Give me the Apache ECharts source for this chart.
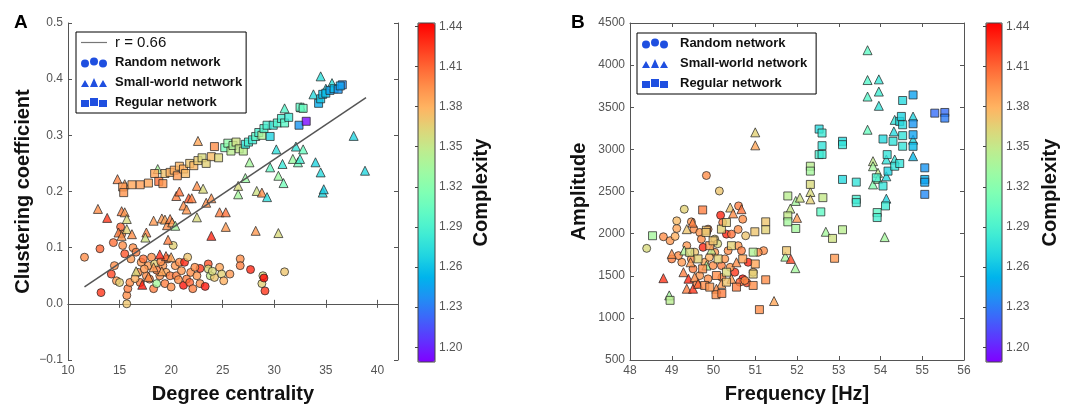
<!DOCTYPE html>
<html>
<head>
<meta charset="utf-8">
<title>Network complexity</title>
<script src="https://cdn.jsdelivr.net/npm/echarts@6/dist/echarts.min.js"></script>
<style>
  html, body { margin: 0; padding: 0; background: #fff; }
  #chart { width: 1092px; height: 409px; }
</style>
</head>
<body>
<div id="chart"></div>
<script>
// A: degree centrality vs clustering coefficient, [x, y, complexity]
var degRandom = [
  [11.6,0.083,1.395],[13.1,0.098,1.41],[13.2,0.020,1.425],[14.4,0.109,1.405],[14.2,0.053,1.42],
  [14.5,0.068,1.395],[14.7,0.041,1.39],[15.0,0.038,1.365],[15.1,0.137,1.41],[15.2,0.124,1.40],
  [15.3,0.104,1.395],[15.5,0.089,1.415],[15.7,0.015,1.395],[15.7,0.000,1.37],[15.8,0.027,1.40],
  [16.0,0.038,1.395],[16.1,0.080,1.39],[16.3,0.100,1.395],[16.6,0.092,1.40],[16.8,0.056,1.395],
  [17.0,0.038,1.40],[17.1,0.074,1.39],[17.3,0.080,1.405],[17.6,0.050,1.395],[17.8,0.068,1.39],
  [17.9,0.044,1.40],[18.1,0.083,1.395],[18.3,0.027,1.40],[18.4,0.071,1.365],[18.6,0.036,1.335],
  [18.9,0.050,1.395],[19.2,0.068,1.39],[19.4,0.036,1.40],[19.5,0.056,1.385],[19.7,0.080,1.395],
  [19.9,0.050,1.40],[20.0,0.030,1.395],[20.2,0.104,1.365],[20.4,0.068,1.39],[20.5,0.050,1.40],
  [20.8,0.074,1.395],[21.0,0.059,1.39],[21.2,0.033,1.435],[21.3,0.074,1.43],[21.5,0.044,1.40],
  [21.6,0.083,1.37],[21.8,0.038,1.41],[21.9,0.056,1.395],[22.1,0.027,1.40],[22.5,0.050,1.39],
  [22.8,0.036,1.395],[22.8,0.063,1.425],[23.3,0.031,1.435],[23.6,0.071,1.415],[23.6,0.062,1.36],
  [23.8,0.050,1.35],[24.2,0.047,1.37],[24.7,0.065,1.385],[24.9,0.053,1.365],[25.1,0.041,1.38],
  [25.7,0.053,1.39],[26.7,0.080,1.395],[26.7,0.068,1.40],[27.7,0.061,1.43],[28.8,0.036,1.365],
  [28.9,0.050,1.36],[29.0,0.046,1.44],[29.1,0.023,1.425],[31.0,0.057,1.37],[17.4,0.062,1.39],
  [18.6,0.060,1.40],[19.0,0.075,1.395],[20.7,0.043,1.395],[22.3,0.065,1.395],[24.0,0.058,1.36],
  [16.5,0.045,1.38]
];
var degSmallWorld = [
  [12.9,0.169,1.395],[13.8,0.153,1.425],[14.8,0.222,1.398],[15.2,0.165,1.40],[15.5,0.163,1.39],
  [15.7,0.151,1.36],[14.9,0.127,1.40],[15.2,0.121,1.392],[15.7,0.133,1.365],[16.2,0.124,1.395],
  [15.5,0.213,1.39],[17.6,0.127,1.40],[17.5,0.118,1.355],[18.3,0.148,1.39],[18.7,0.240,1.335],
  [19.1,0.152,1.39],[19.4,0.150,1.385],[19.6,0.140,1.395],[19.9,0.151,1.40],[20.1,0.145,1.39],
  [20.4,0.139,1.335],[19.5,0.085,1.41],[19.7,0.114,1.40],[18.9,0.088,1.43],[20.0,0.083,1.385],
  [20.5,0.192,1.40],[20.8,0.200,1.405],[21.2,0.175,1.395],[21.5,0.168,1.39],[21.7,0.188,1.415],
  [22.0,0.188,1.40],[22.5,0.210,1.395],[22.6,0.290,1.385],[22.5,0.154,1.36],[23.1,0.205,1.36],
  [23.4,0.180,1.395],[23.9,0.188,1.395],[23.9,0.121,1.43],[24.7,0.163,1.40],[25.3,0.163,1.405],
  [25.3,0.137,1.39],[26.5,0.210,1.36],[26.5,0.195,1.335],[27.2,0.224,1.33],[27.6,0.252,1.335],
  [28.3,0.201,1.355],[28.2,0.130,1.39],[28.8,0.198,1.395],[29.3,0.190,1.275],[29.6,0.243,1.30],
  [30.2,0.275,1.275],[30.4,0.228,1.33],[30.4,0.126,1.36],[30.8,0.249,1.28],[30.9,0.215,1.31],
  [31.0,0.348,1.295],[31.8,0.258,1.33],[32.1,0.280,1.278],[32.3,0.252,1.31],[32.5,0.258,1.285],
  [32.6,0.350,1.29],[32.8,0.275,1.305],[33.8,0.373,1.272],[34.0,0.252,1.268],[34.5,0.405,1.275],
  [34.5,0.234,1.272],[34.7,0.198,1.27],[34.8,0.204,1.265],[35.0,0.383,1.265],[35.6,0.393,1.275],
  [37.7,0.299,1.268],[38.8,0.237,1.27],[16.6,0.058,1.36],[17.2,0.034,1.435],[17.8,0.048,1.395],
  [18.3,0.065,1.39],[19.1,0.058,1.385]
];
var degRegular = [
  [15.3,0.208,1.39],[15.4,0.198,1.392],[16.2,0.212,1.385],[17.0,0.212,1.388],[17.8,0.215,1.385],
  [18.4,0.232,1.386],[18.8,0.218,1.405],[19.2,0.214,1.392],[19.4,0.232,1.372],[19.9,0.234,1.38],
  [20.3,0.238,1.383],[20.6,0.228,1.39],[20.8,0.245,1.378],[21.2,0.240,1.382],[21.4,0.232,1.375],
  [21.8,0.250,1.37],[22.2,0.246,1.377],[22.6,0.255,1.368],[23.0,0.260,1.36],[23.4,0.250,1.365],
  [23.9,0.262,1.375],[24.2,0.280,1.395],[24.6,0.260,1.362],[25.2,0.278,1.31],[25.5,0.286,1.325],
  [25.8,0.272,1.345],[26.0,0.282,1.338],[26.3,0.288,1.355],[26.6,0.276,1.35],[27.0,0.272,1.345],
  [27.2,0.284,1.278],[27.5,0.288,1.288],[27.9,0.292,1.283],[28.2,0.298,1.298],[28.5,0.305,1.288],
  [28.8,0.300,1.34],[29.0,0.312,1.293],[29.3,0.318,1.288],[29.6,0.298,1.268],[29.9,0.318,1.28],
  [30.3,0.322,1.293],[30.7,0.330,1.288],[31.0,0.322,1.298],[31.4,0.332,1.283],[32.5,0.350,1.30],
  [32.8,0.348,1.305],[32.4,0.318,1.24],[33.1,0.325,1.192],[34.3,0.357,1.25],[34.5,0.365,1.262],
  [34.7,0.373,1.255],[35.0,0.375,1.258],[35.4,0.380,1.245],[35.8,0.383,1.255],[36.2,0.382,1.24],
  [36.6,0.390,1.235],[36.4,0.388,1.245]
];
var degFit = [[11.6, 0.030], [38.9, 0.367]];

// B: frequency vs amplitude, [x, y, complexity]
var freqRandom = [
  [48.4,1825,1.36],[48.8,1963,1.395],[48.96,1916,1.39],[49.08,1967,1.38],[49.12,2061,1.385],
  [49.12,2152,1.375],[49.3,2289,1.365],[49.83,2690,1.395],[50.14,2506,1.37],[50.17,2218,1.43],
  [50.6,2329,1.40],[50.7,2171,1.395],[50.77,1975,1.37],[50.7,1463,1.435],[50.8,1416,1.42],
  [50.95,1542,1.375],[51.2,1798,1.395],[49.0,1700,1.40],[49.47,2140,1.39],[49.53,2053,1.395],
  [49.67,2014,1.39],[49.71,1935,1.395],[49.87,2053,1.40],[50.03,1935,1.365],[50.22,2132,1.40],
  [50.31,1994,1.43],[50.43,1994,1.405],[50.59,2050,1.395],[49.36,1857,1.39],[49.47,1700,1.395],
  [49.51,1582,1.40],[49.67,1502,1.39],[49.79,1660,1.385],[49.75,1837,1.43],[50.03,1778,1.39],
  [49.99,1621,1.395],[49.87,1463,1.395],[50.19,1621,1.40],[50.27,1700,1.39],[50.35,1798,1.395],
  [50.59,1857,1.39],[50.67,1798,1.40],[50.83,1660,1.43],[51.07,1778,1.395],[50.51,1542,1.425],
  [50.63,1424,1.41],[50.75,1444,1.395],[49.24,1660,1.39],[49.16,1739,1.395],[49.6,1400,1.40],
  [50.1,1880,1.36],[49.9,1720,1.38],[50.4,1600,1.39],[49.55,1780,1.37],[50.2,1480,1.40]
];
var freqSmallWorld = [
  [48.8,1471,1.425],[48.94,1267,1.335],[49.0,1760,1.395],[49.3,1800,1.34],[49.36,2053,1.37],
  [49.5,2130,1.40],[50.4,2310,1.37],[50.47,2240,1.395],[50.67,2290,1.405],[51.0,3202,1.365],
  [51.0,3048,1.385],[51.45,1200,1.385],[51.72,1727,1.335],[51.85,1700,1.42],[51.96,1590,1.335],
  [51.84,2297,1.35],[51.97,2388,1.335],[52.07,2427,1.355],[52.0,2187,1.39],[52.32,2494,1.36],
  [52.32,2407,1.365],[52.69,2022,1.335],[53.69,4177,1.30],[53.69,3823,1.295],[53.69,3627,1.295],
  [53.69,3233,1.305],[53.96,3831,1.28],[53.96,3686,1.285],[53.96,3517,1.278],[53.82,2860,1.35],
  [53.82,2800,1.335],[53.82,2584,1.318],[53.94,2722,1.35],[53.94,2650,1.325],[54.1,1959,1.335],
  [54.14,2880,1.278],[54.14,2680,1.272],[54.14,2415,1.268],[54.34,2880,1.278],[54.32,3213,1.272],
  [54.34,3350,1.278],[54.78,3390,1.268],[54.78,3115,1.272],[54.78,2919,1.255],[49.4,1465,1.43],
  [49.36,1346,1.40],[49.51,1346,1.425],[49.55,1483,1.395],[49.45,1660,1.39],[49.28,1542,1.40],
  [50.55,1660,1.395],[50.19,1404,1.39],[50.07,1346,1.395],[49.83,1621,1.335],[50.43,1463,1.39],
  [49.63,1404,1.41],[49.95,1810,1.35]
];
var freqRegular = [
  [48.54,1975,1.335],[48.96,1208,1.345],[49.74,2281,1.40],[49.83,2040,1.37],[50.99,2022,1.37],
  [51.25,2140,1.37],[51.25,2046,1.365],[50.95,1780,1.34],[51.0,1640,1.385],[50.95,1520,1.365],
  [50.95,1385,1.395],[51.25,1452,1.395],[51.1,1098,1.395],[50.06,1275,1.395],[51.78,2447,1.345],
  [51.75,1798,1.37],[51.78,2211,1.35],[51.78,2140,1.335],[51.97,2061,1.335],[52.32,2800,1.345],
  [52.32,2742,1.335],[52.32,2584,1.36],[52.53,3241,1.272],[52.6,3194,1.283],[52.6,3044,1.278],
  [52.53,2938,1.288],[52.6,2940,1.283],[52.57,2258,1.30],[52.62,2427,1.35],[52.85,1943,1.355],
  [52.9,1707,1.39],[53.09,2046,1.345],[53.09,3096,1.272],[53.09,3056,1.278],[53.09,2643,1.272],
  [53.42,2611,1.278],[53.42,2407,1.288],[53.42,2368,1.283],[53.9,2663,1.288],[53.92,2250,1.298],
  [53.92,2191,1.288],[54.06,2565,1.278],[54.06,3123,1.272],[54.16,2938,1.278],[54.18,2742,1.268],
  [54.12,2329,1.283],[54.3,3096,1.278],[54.34,2800,1.278],[54.46,3332,1.272],[54.5,3391,1.268],
  [54.53,3580,1.272],[54.53,3292,1.272],[54.53,3163,1.278],[54.53,3037,1.278],[54.46,2832,1.278],
  [54.78,3646,1.245],[54.78,3304,1.24],[54.78,3174,1.245],[54.78,3036,1.255],[55.06,2781,1.24],
  [55.06,2643,1.25],[55.06,2610,1.245],[55.06,2466,1.235],[55.3,3430,1.225],[55.54,3438,1.225],
  [55.54,3371,1.23],[49.82,2014,1.37],[50.19,2053,1.365],[50.31,2132,1.365],[49.43,1778,1.36],
  [49.74,1582,1.395],[49.91,1857,1.39],[49.99,1915,1.37],[50.43,1857,1.365],[49.79,1385,1.395],
  [50.07,1503,1.395],[50.31,1424,1.37],[49.63,1700,1.365],[50.31,1542,1.36],[50.11,1700,1.365],
  [50.55,1365,1.40],[49.91,1365,1.39],[50.7,1700,1.385],[50.2,1290,1.40]
];

// ticks and names
var degTicks = [10, 15, 20, 25, 30, 35, 40];
var complexityTicks = [1.20, 1.23, 1.26, 1.29, 1.32, 1.35, 1.38, 1.41, 1.44];
var complexityRange = [1.189, 1.4425];
var networkNames = ['Random network', 'Small-world network', 'Regular network'];
var fitName = 'r = 0.66';

// matplotlib "rainbow" colormap
function rainbow(t) {
  var r = Math.min(1, Math.abs(2 * t - 0.5));
  var g = Math.sin(Math.PI * t);
  var b = Math.cos(Math.PI * t / 2);
  return 'rgb(' + [r, g, b].map(function (v) { return Math.round(255 * v); }).join(',') + ')';
}
var rainbowStops = [];
for (var i = 0; i <= 16; i++) rainbowStops.push(rainbow(i / 16));

var grey = '#555';
var font = 'Liberation Sans';
var titleStyle = { fontSize: 20, fontWeight: 'bold', color: '#111', fontFamily: font };

function tick(values) {
  var o = { inside: true, length: 4, lineStyle: { color: grey } };
  if (values) o.customValues = values;
  return o;
}
function fmt1(v) { return (v < 0 ? '\u2212' : '') + Math.abs(v).toFixed(1); }

// frame axis (top / right) with ticks only
function frameX(grid, min, max, interval, values) {
  return { gridIndex: grid, type: 'value', position: 'top', min: min, max: max, interval: interval,
    axisLine: { show: true, lineStyle: { color: grey } }, axisTick: tick(values),
    axisLabel: { show: false }, splitLine: { show: false } };
}
function frameY(grid, min, max, interval) {
  return { gridIndex: grid, type: 'value', position: 'right', min: min, max: max, interval: interval,
    axisLine: { show: true, lineStyle: { color: grey } }, axisTick: tick(),
    axisLabel: { show: false }, splitLine: { show: false } };
}
function colorbarAxis(grid, gap) {
  return { gridIndex: grid, type: 'value', position: 'right',
    min: complexityRange[0], max: complexityRange[1],
    axisLine: { show: false }, axisTick: { inside: true, length: 3, customValues: complexityTicks, lineStyle: { color: '#444' } },
    axisLabel: { customValues: complexityTicks, margin: 4, color: grey, fontSize: 12, fontFamily: font,
      formatter: function (v) { return v.toFixed(2); } },
    splitLine: { show: false },
    name: 'Complexity', nameLocation: 'middle', nameRotate: 90, nameGap: gap, nameTextStyle: titleStyle };
}

function scatter(name, data, symbol, size) {
  return {
    name: name, type: 'scatter', data: data, symbol: symbol, symbolSize: size, silent: true,
    itemStyle: { borderColor: '#222', borderWidth: 0.9, opacity: 0.8 },
    emphasis: { disabled: true }
  };
}

var icons = {
  'Random network': 'path://M0,6a4,4 0 1,0 8,0a4,4 0 1,0 -8,0Z M9,4a4,4 0 1,0 8,0a4,4 0 1,0 -8,0Z M18,6a4,4 0 1,0 8,0a4,4 0 1,0 -8,0Z',
  'Small-world network': 'path://M0,10L4,3L8,10Z M9,10L13,1L17,10Z M18,10L22,3L26,10Z',
  'Regular network': 'path://M0,3H8V10H0Z M9,1H17V9H9Z M18,3H26V10H18Z'
};
function legendItems(gap) {
  return networkNames.map(function (n) {
    return { name: n, icon: icons[n], itemStyle: { color: '#1f4fe0', borderWidth: 0, opacity: 1 },
      textStyle: { fontSize: 13, lineHeight: 15, fontWeight: 'bold', color: '#111', fontFamily: font, padding: [0, 0, 0, gap] } };
  });
}
var legendA = [{ name: fitName, icon: 'path://M0,4.4H26V5.6H0Z',
  itemStyle: { color: '#777', borderWidth: 0, opacity: 1 },
  textStyle: { fontSize: 15, lineHeight: 15, color: '#111', fontFamily: font, padding: [0, 0, 0, 3] } }].concat(legendItems(3));

var option = {
  animation: false,
  backgroundColor: '#fff',
  textStyle: { fontFamily: font },
  title: [
    { text: 'A', left: 14, top: 13, padding: 0, textStyle: { fontSize: 19, fontWeight: 'bold', color: '#000', fontFamily: font } },
    { text: 'B', left: 571, top: 13, padding: 0, textStyle: { fontSize: 19, fontWeight: 'bold', color: '#000', fontFamily: font } }
  ],
  legend: [
    { data: legendA, orient: 'vertical', left: 76, top: 32, itemWidth: 26, itemHeight: 10, itemGap: 5,
      padding: [3, 4, 3, 5], borderColor: '#000', borderWidth: 1, selectedMode: false, backgroundColor: '#fff' },
    { data: legendItems(7), orient: 'vertical', left: 637, top: 33, itemWidth: 26, itemHeight: 10, itemGap: 5,
      padding: [3, 9, 3, 5], borderColor: '#000', borderWidth: 1, selectedMode: false, backgroundColor: '#fff' }
  ],
  grid: [
    { left: 68, top: 23, width: 330, height: 339 },
    { left: 630, top: 23, width: 334, height: 339 },
    { left: 418, top: 23, width: 17, height: 339, show: true, borderColor: '#444', borderWidth: 1, z: 6 },
    { left: 986, top: 23, width: 16, height: 339, show: true, borderColor: '#444', borderWidth: 1, z: 6 }
  ],
  xAxis: [
    { gridIndex: 0, type: 'value', min: 10, max: 42,
      axisLine: { show: true, lineStyle: { color: grey } }, axisTick: tick(degTicks),
      axisLabel: { customValues: degTicks, color: grey, fontSize: 12, margin: 5 }, splitLine: { show: false },
      name: 'Degree centrality', nameLocation: 'middle', nameGap: 24, nameTextStyle: titleStyle },
    frameX(0, 10, 42, null, degTicks),
    { gridIndex: 1, type: 'value', min: 48, max: 56, interval: 1,
      axisLine: { show: true, lineStyle: { color: grey } }, axisTick: tick(),
      axisLabel: { color: grey, fontSize: 12, margin: 5 }, splitLine: { show: false },
      name: 'Frequency [Hz]', nameLocation: 'middle', nameGap: 24, nameTextStyle: titleStyle },
    frameX(1, 48, 56, 1),
    { gridIndex: 2, type: 'value', show: false, min: 0, max: 1 },
    { gridIndex: 3, type: 'value', show: false, min: 0, max: 1 }
  ],
  yAxis: [
    { gridIndex: 0, type: 'value', min: -0.1, max: 0.5, interval: 0.1,
      axisLine: { show: true, lineStyle: { color: grey } }, axisTick: tick(),
      axisLabel: { color: grey, fontSize: 12, margin: 5, formatter: fmt1 }, splitLine: { show: false },
      name: 'Clustering coefficient', nameLocation: 'middle', nameGap: 35, nameTextStyle: titleStyle },
    frameY(0, -0.1, 0.5, 0.1),
    { gridIndex: 1, type: 'value', min: 500, max: 4500, interval: 500,
      axisLine: { show: true, lineStyle: { color: grey } }, axisTick: tick(),
      axisLabel: { color: grey, fontSize: 12, margin: 5, formatter: function (v) { return String(v); } },
      splitLine: { show: false },
      name: 'Amplitude', nameLocation: 'middle', nameGap: 41, nameTextStyle: titleStyle },
    frameY(1, 500, 4500, 500),
    colorbarAxis(2, 36),
    colorbarAxis(3, 38)
  ],
  visualMap: [
    { type: 'continuous', seriesIndex: [0, 1, 2], dimension: 2, min: complexityRange[0], max: complexityRange[1],
      left: 418, top: 23, itemWidth: 17, itemHeight: 339, padding: 0, calculable: false, hoverLink: false,
      inRange: { color: rainbowStops } },
    { type: 'continuous', seriesIndex: [4, 5, 6], dimension: 2, min: complexityRange[0], max: complexityRange[1],
      left: 986, top: 23, itemWidth: 16, itemHeight: 339, padding: 0, calculable: false, hoverLink: false,
      inRange: { color: rainbowStops } }
  ],
  series: [
    scatter(networkNames[0], degRandom, 'circle', 8),
    scatter(networkNames[1], degSmallWorld, 'triangle', 9),
    scatter(networkNames[2], degRegular, 'rect', 8),
    { name: fitName, type: 'line', data: degFit, symbol: 'none', silent: true,
      lineStyle: { color: '#555', width: 1.5 }, z: 5 },
    scatter(networkNames[0], freqRandom, 'circle', 8),
    scatter(networkNames[1], freqSmallWorld, 'triangle', 9),
    scatter(networkNames[2], freqRegular, 'rect', 8)
  ]
};

// A series on axes 0, B series on the second pair of main axes
option.series.forEach(function (s, k) {
  s.xAxisIndex = k < 4 ? 0 : 2;
  s.yAxisIndex = k < 4 ? 0 : 2;
});

var myChart = echarts.init(document.getElementById('chart'));
myChart.setOption(option);
</script>
</body>
</html>
